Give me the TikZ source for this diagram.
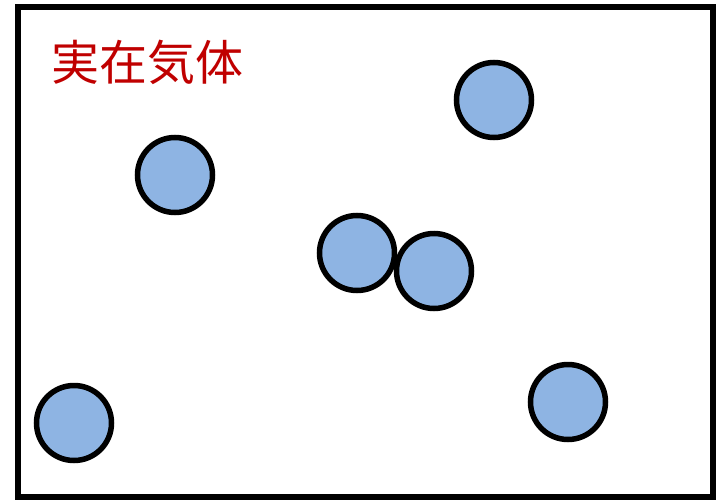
\documentclass[tikz,border=0pt]{standalone}
\usepackage{fontspec}
\newfontfamily\jpfont{Noto Sans CJK JP}
\definecolor{molfill}{HTML}{8EB4E3}
\definecolor{labelred}{HTML}{C00000}
\begin{document}
\begin{tikzpicture}[x=1pt,y=-1pt,
  molecule/.style={circle,draw=black,line width=5.5pt,fill=molfill,minimum size=75pt,inner sep=0pt},
  container/.style={draw=black,line width=6pt}]
\useasboundingbox (0,0) rectangle (716,501);
\fill[white] (0,0) rectangle (716,501);
\draw[container] (18,7) rectangle (713,497);
\node[text=labelred,font=\jpfont\fontsize{48}{52}\selectfont,inner sep=0pt] (title) at (148,62) {実在気体};
\node[molecule] (m1) at (175,175) {};
\node[molecule] (m2) at (494,100) {};
\node[molecule] (m3) at (357,253) {};
\node[molecule] (m4) at (434,271) {};
\node[molecule] (m5) at (74,423) {};
\node[molecule] (m6) at (568,402) {};
\end{tikzpicture}
\end{document}
